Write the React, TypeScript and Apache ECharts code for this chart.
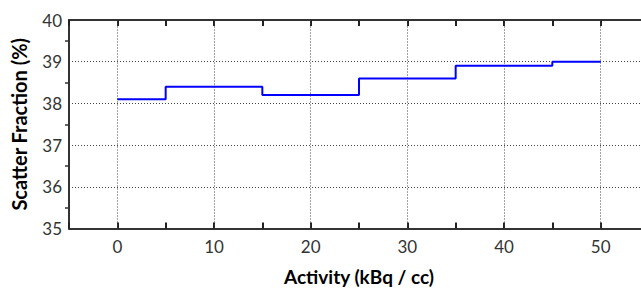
import React, { useEffect, useRef } from "react";
import * as echarts from "echarts";

const activity = [0, 10, 20, 30, 40, 50];
const scatterFraction = [38.1, 38.4, 38.2, 38.6, 38.9, 39.0];
const xTicks = [0, 10, 20, 30, 40, 50];
const yTicks = [35, 36, 37, 38, 39, 40];

export default function App() {
  const ref = useRef<HTMLDivElement>(null);
  useEffect(() => {
    const chart = echarts.init(ref.current!, null, { renderer: "svg" });
    const font = "Lato, 'Open Sans', sans-serif";
    const gridLine = { color: "#444", type: [1, 2], width: 1 };
    chart.setOption({
      animation: false,
      grid: { left: 69, top: 20, width: 580, height: 208.5, outerBoundsMode: "none", containLabel: false },
      xAxis: [
        {
          type: "value",
          min: -5,
          max: 55,
          interval: 5,
          name: "Activity (kBq / cc)",
          nameLocation: "middle",
          nameGap: 38,
          nameTextStyle: { fontFamily: font, fontSize: 19, color: "#000", fontWeight: "bold" },
          axisLine: { onZero: false, lineStyle: { color: "#333", width: 2 } },
          axisTick: {
            inside: true,
            length: 6,
            lineStyle: { color: "#222", width: 2 },
            interval: (i: number, v: any) => xTicks.includes(Number(v)),
          },
          axisLabel: {
            fontFamily: font,
            fontSize: 17,
            color: "#333",
            margin: 9,
            formatter: (v: number) => (xTicks.includes(v) ? String(v) : ""),
          },
          splitLine: { show: false },
        },
        {
          type: "value",
          position: "top",
          min: -5,
          max: 55,
          interval: 5,
          axisLine: { show: true, onZero: false, lineStyle: { color: "#333", width: 2 } },
          axisTick: {
            show: true,
            inside: true,
            length: 6,
            lineStyle: { color: "#222", width: 2 },
            interval: (i: number, v: any) => xTicks.includes(Number(v)),
          },
          axisLabel: { show: false },
          splitLine: { show: false },
        },
      ],
      yAxis: {
        type: "value",
        min: 35,
        max: 40,
        interval: 1,
        name: "Scatter Fraction (%)",
        nameLocation: "middle",
        nameGap: 40,
        nameTextStyle: { fontFamily: font, fontSize: 20, color: "#000", fontWeight: "bold" },
        axisLine: { show: true, onZero: false, lineStyle: { color: "#333", width: 2 } },
        axisTick: { show: false },
        minorTick: { show: true, splitNumber: 2, length: 4, lineStyle: { color: "#333", width: 1.5 } },
        axisLabel: {
          fontFamily: font,
          fontSize: 17,
          color: "#333",
          margin: 7,
          formatter: (v: number) => (yTicks.includes(v) ? String(v) : ""),
        },
        splitLine: { show: true, lineStyle: gridLine },
      },
      series: [
        {
          type: "line",
          step: "middle",
          data: activity.map((x, i) => [x, scatterFraction[i]]),
          showSymbol: false,
          lineStyle: { color: "#0000ff", width: 2 },
          xAxisIndex: 0,
          z: 5,
        },
        {
          type: "line",
          data: [],
          xAxisIndex: 0,
          markLine: {
            silent: true,
            symbol: "none",
            label: { show: false },
            lineStyle: gridLine,
            data: xTicks.map((x) => ({ xAxis: x })),
          },
        },
      ],
    });
    return () => chart.dispose();
  }, []);
  return (
    <div
      ref={ref}
      style={{ position: "absolute", left: 0, top: 0, width: 641, height: 289 }}
    />
  );
}
